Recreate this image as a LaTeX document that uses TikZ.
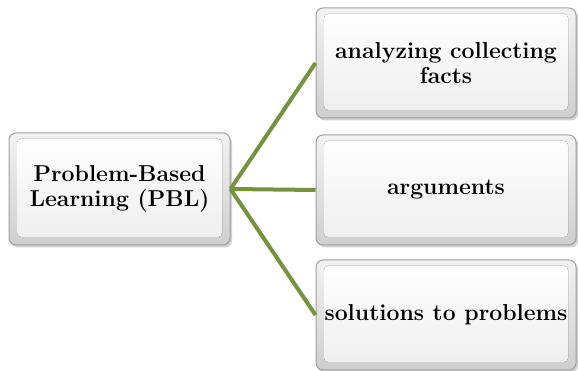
\documentclass[tikz,border=0pt]{standalone}
\usetikzlibrary{shadows}
\definecolor{linkgreen}{HTML}{76923C}
\tikzset{
  bevelbox/.style={draw=gray!75, line width=1pt, rounded corners=7pt,
    top color=gray!10, bottom color=gray!38, align=center,
    font=\fontsize{23}{25}\selectfont\bfseries,
    drop shadow={shadow xshift=2pt, shadow yshift=-2.5pt, fill=gray!60, opacity=0.6},
    path picture={\fill[top color=white, bottom color=gray!14, rounded corners=4pt]
      ([shift={(8pt,8pt)}]path picture bounding box.south west) rectangle
      ([shift={(-8pt,-6pt)}]path picture bounding box.north east);},
    inner sep=0pt},
  link/.style={draw=linkgreen, line width=4pt}
}
\begin{document}
\begin{tikzpicture}[x=1pt,y=1pt]
\useasboundingbox (0,0) rectangle (578,371);
\node[bevelbox, minimum width=221pt, minimum height=112pt] (pbl) at (119.5,182) {Problem-Based\\Learning (PBL)};
\node[bevelbox, minimum width=260pt, minimum height=110pt] (a) at (446,308) {analyzing collecting\\facts};
\node[bevelbox, minimum width=260pt, minimum height=110pt] (b) at (446,181) {arguments};
\node[bevelbox, minimum width=260pt, minimum height=110pt] (c) at (446,56) {solutions to problems};
\draw[link] (pbl.east) -- (a.west);
\draw[link] (pbl.east) -- (b.west);
\draw[link] (pbl.east) -- (c.west);
\end{tikzpicture}
\end{document}
